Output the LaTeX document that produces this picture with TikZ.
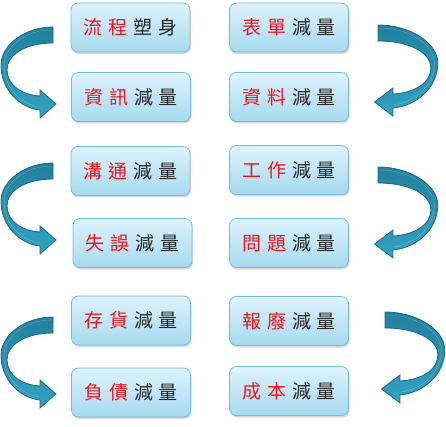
\documentclass[tikz,border=0pt]{standalone}
\usepackage{fontspec}
\newfontfamily\cjk{Noto Sans CJK TC}
\usetikzlibrary{shadows}
\definecolor{boxtop}{HTML}{DDF3FD}
\definecolor{boxbot}{HTML}{A6DAEF}
\definecolor{boxedge}{HTML}{74BCD8}
\definecolor{arrtop}{HTML}{21809E}
\definecolor{arrbot}{HTML}{33A2C1}
\definecolor{arredge}{HTML}{1B6B86}
\definecolor{txtred}{HTML}{F0141E}
\newcommand{\rc}[1]{{\color{txtred}#1}}
\newcommand{\gap}{\kern6pt}
\newcommand{\lbl}[4]{\rc{#1}\gap\rc{#2}\gap #3\gap #4}
\tikzset{
  box/.style={draw=boxedge, line width=0.8pt, rounded corners=7pt,
    top color=boxtop, bottom color=boxbot,
    minimum width=119pt, minimum height=49pt, inner sep=0pt,
    font=\cjk\fontsize{19}{19}\selectfont, text=black!85,
    drop shadow={opacity=0.3, shadow xshift=1pt, shadow yshift=-2pt}},
  carrow/.pic={
    \path[draw=arredge, line width=0.8pt, top color=arrtop, bottom color=arrbot]
      (0,0) .. controls (-28,0) and (-52,18) .. (-52,38)
      .. controls (-52,63) and (-33,81) .. (-13,83)
      -- (-13,91) -- (3,77) -- (-13,63) -- (-13,69)
      .. controls (-31,68) and (-46,58) .. (-46,43)
      .. controls (-46,28) and (-28,16) .. (0,16) -- cycle;
    \path[draw=white, opacity=0.25, line width=0.5pt]
      (-2,3) .. controls (-27,3) and (-49,20) .. (-49,38)
      .. controls (-49,61) and (-32,77) .. (-14,80);
  }
}
\begin{document}
\begin{tikzpicture}[x=1pt,y=-1pt]
\useasboundingbox (0,0) rectangle (446,427);
% left arrows
\pic at (53,27) {carrow};
\pic at (53,163) {carrow};
\pic at (53,317) {carrow};
% right arrows
\pic[xscale=-1.15] at (378,25) {carrow};
\pic[xscale=-1.15] at (378,167) {carrow};
\pic[xscale=-1.15] at (385,312) {carrow};
% boxes
\node[box] (a1) at (130.5,27.5) {\lbl{流}{程}{塑}{身}};
\node[box] (a2) at (131,97) {\lbl{資}{訊}{減}{量}};
\node[box] (a3) at (130.5,171) {\lbl{溝}{通}{減}{量}};
\node[box] (a4) at (132.5,243) {\lbl{失}{誤}{減}{量}};
\node[box] (a5) at (131,320.5) {\lbl{存}{貨}{減}{量}};
\node[box] (a6) at (131,392.5) {\lbl{負}{債}{減}{量}};
\node[box] (b1) at (289,27.5) {\lbl{表}{單}{減}{量}};
\node[box] (b2) at (289,97) {\lbl{資}{料}{減}{量}};
\node[box] (b3) at (289,170) {\lbl{工}{作}{減}{量}};
\node[box] (b4) at (289,243) {\lbl{問}{題}{減}{量}};
\node[box] (b5) at (289,321) {\lbl{報}{廢}{減}{量}};
\node[box] (b6) at (289,391) {\lbl{成}{本}{減}{量}};
\end{tikzpicture}
\end{document}
